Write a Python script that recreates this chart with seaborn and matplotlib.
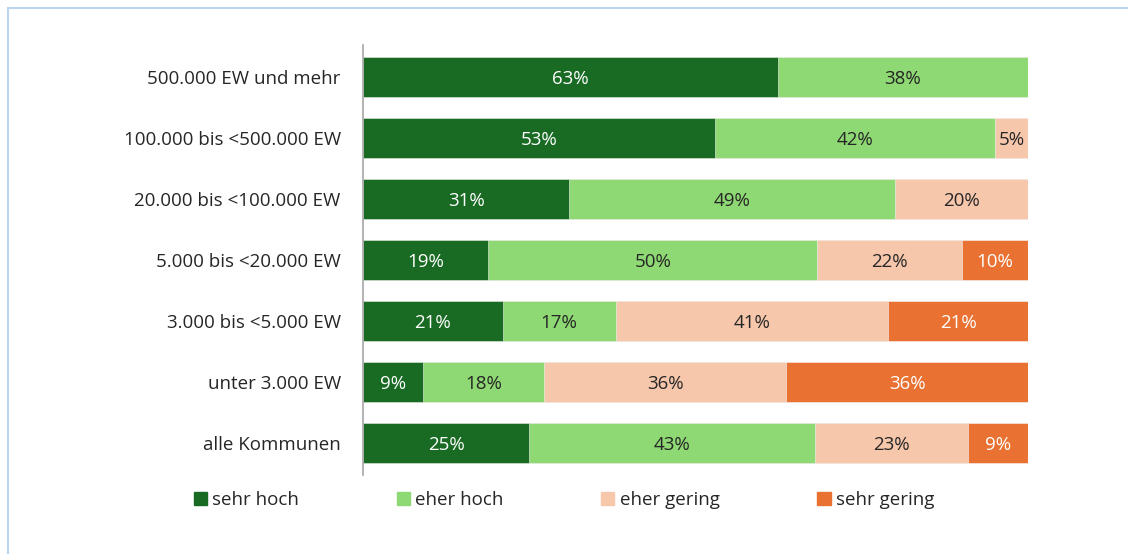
import numpy as np
import pandas as pd
import matplotlib.pyplot as plt
import seaborn as sns
from matplotlib.lines import Line2D

# Daten (Prozentwerte wie im Diagramm beschriftet)
kategorien = ["500.000 EW und mehr", "100.000 bis <500.000 EW", "20.000 bis <100.000 EW",
              "5.000 bis <20.000 EW", "3.000 bis <5.000 EW", "unter 3.000 EW", "alle Kommunen"]
sehr_hoch = [63, 53, 31, 19, 21, 9, 25]
eher_hoch = [38, 42, 49, 50, 17, 18, 43]
eher_gering = [0, 5, 20, 22, 41, 36, 23]
sehr_gering = [0, 0, 0, 10, 21, 36, 9]

stufen = ["sehr hoch", "eher hoch", "eher gering", "sehr gering"]
farben = ["#196B24", "#8ED973", "#F7C7AC", "#E97132"]
textfarben = ["white", "#262626", "#262626", "white"]

werte = np.array([sehr_hoch, eher_hoch, eher_gering, sehr_gering], dtype=float)
anteile = werte / werte.sum(axis=0) * 100  # auf 100% normieren
kumuliert = np.cumsum(anteile, axis=0)

sns.set_style("white")
plt.rcParams["font.family"] = ["Open Sans", "DejaVu Sans"]

fig = plt.figure(figsize=(11.28, 5.54), dpi=100)
ax = fig.add_axes([363 / 1128, 1 - 475 / 554, (1028 - 363) / 1128, 430 / 554])

# gestapelt: laengste Summe zuerst, kuerzere darueber
handles = {}
for k in range(3, -1, -1):
    df = pd.DataFrame({"kategorie": kategorien, "wert": kumuliert[k]})
    sns.barplot(data=df, x="wert", y="kategorie", orient="h", color=farben[k],
                width=0.66, saturation=1, ax=ax, linewidth=0.4, edgecolor="#f4f4f4")
    handles[k] = plt.Rectangle((0, 0), 1, 1, color=farben[k])

# Beschriftungen
for k in range(4):
    for i in range(len(kategorien)):
        if werte[k, i] > 0:
            mitte = kumuliert[k, i] - anteile[k, i] / 2
            ax.text(mitte, i + 0.03, f"{werte[k, i]:.0f}%", ha="center", va="center",
                    color=textfarben[k], fontsize=13.5)

ax.set_xlim(0, 100)
ax.set_ylim(6.525, -0.525)
ax.set_xlabel("")
ax.set_ylabel("")
ax.set_xticks([])
ax.tick_params(axis="y", length=0, pad=16, labelsize=13.5, labelcolor="#262626")
for s in ["top", "right", "bottom"]:
    ax.spines[s].set_visible(False)
ax.spines["left"].set_color("#a6a6a6")
ax.spines["left"].set_linewidth(1.2)

fig.legend([handles[k] for k in range(4)], stufen, loc="center",
           bbox_to_anchor=(0.5, 1 - 500 / 554), ncol=4, frameon=False,
           fontsize=13.5, handlelength=0.7, handleheight=0.7, handletextpad=0.3,
           columnspacing=5.2, labelcolor="#262626")

# Rahmen (oben und links sichtbar)
fig.add_artist(Line2D([8 / 1128, 1], [1 - 8 / 554, 1 - 8 / 554], color="#bcd6ee", lw=1.5))
fig.add_artist(Line2D([8 / 1128, 8 / 1128], [0, 1 - 8 / 554], color="#bcd6ee", lw=1.5))

plt.savefig("out.png", dpi=100)
plt.close()
